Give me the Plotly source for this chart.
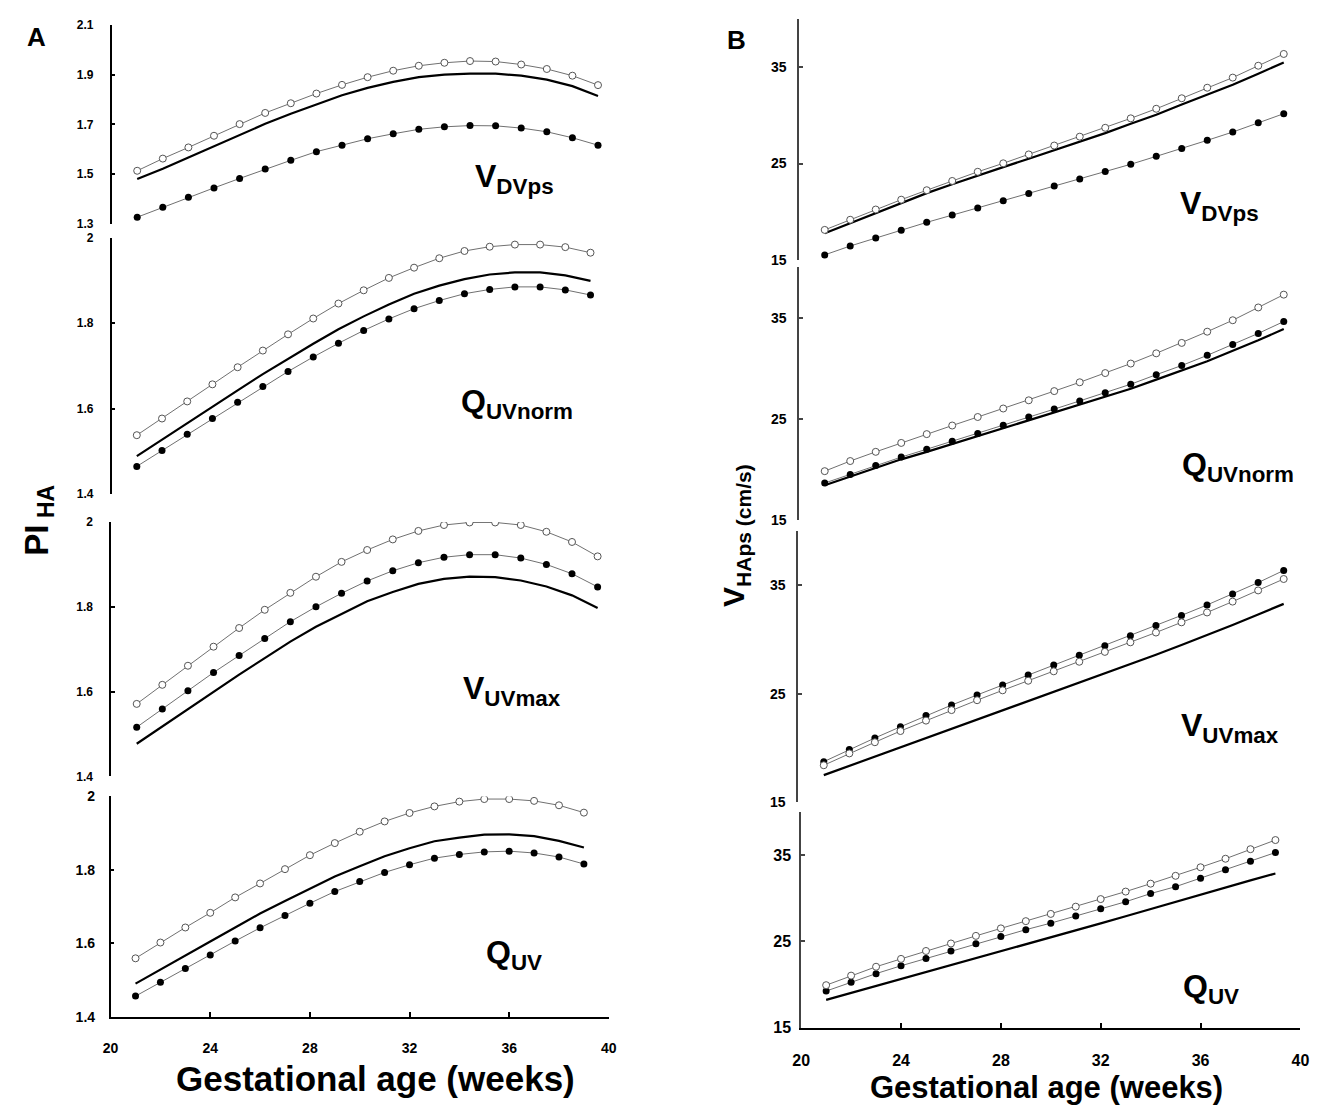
import plotly.graph_objects as go

W, H = 1337, 1114
weeks = list(range(21, 40))

# ---------------- Panel A: PI_HA ----------------
a_vdvps_open = [1.513, 1.562, 1.607, 1.654, 1.701, 1.746, 1.785, 1.824, 1.859, 1.890,
                1.916, 1.936, 1.948, 1.955, 1.953, 1.941, 1.923, 1.896, 1.858]
a_vdvps_fill = [1.326, 1.366, 1.406, 1.444, 1.482, 1.520, 1.555, 1.590, 1.616, 1.642,
                1.662, 1.680, 1.690, 1.695, 1.694, 1.685, 1.670, 1.646, 1.616]
a_vdvps_line = [1.480, 1.521, 1.566, 1.611, 1.657, 1.702, 1.743, 1.781, 1.817, 1.847,
                1.871, 1.890, 1.900, 1.904, 1.904, 1.896, 1.880, 1.854, 1.814]

a_qnorm_open = [1.538, 1.577, 1.617, 1.657, 1.697, 1.736, 1.774, 1.811, 1.846, 1.877,
                1.906, 1.930, 1.952, 1.969, 1.979, 1.984, 1.984, 1.978, 1.965]
a_qnorm_fill = [1.465, 1.502, 1.540, 1.577, 1.615, 1.652, 1.687, 1.721, 1.753, 1.783,
                1.810, 1.834, 1.853, 1.869, 1.879, 1.885, 1.885, 1.878, 1.866]
a_qnorm_line = [1.489, 1.528, 1.566, 1.604, 1.643, 1.681, 1.717, 1.752, 1.786, 1.816,
                1.844, 1.869, 1.888, 1.903, 1.914, 1.919, 1.919, 1.912, 1.899]

a_vmax_open = [1.571, 1.616, 1.661, 1.706, 1.750, 1.793, 1.833, 1.871, 1.906, 1.934,
               1.959, 1.979, 1.993, 1.999, 1.999, 1.993, 1.977, 1.953, 1.919]
a_vmax_fill = [1.516, 1.559, 1.602, 1.645, 1.685, 1.725, 1.765, 1.800, 1.832, 1.861,
               1.885, 1.904, 1.917, 1.923, 1.923, 1.915, 1.900, 1.878, 1.847]
a_vmax_line = [1.477, 1.518, 1.559, 1.600, 1.640, 1.679, 1.718, 1.753, 1.784, 1.813,
               1.835, 1.854, 1.866, 1.871, 1.870, 1.862, 1.848, 1.827, 1.797]

a_quv_open = [1.559, 1.602, 1.643, 1.683, 1.725, 1.763, 1.802, 1.840, 1.873, 1.904,
              1.932, 1.955, 1.973, 1.986, 1.993, 1.993, 1.988, 1.976, 1.956]
a_quv_fill = [1.456, 1.494, 1.531, 1.568, 1.606, 1.642, 1.676, 1.709, 1.741, 1.768,
              1.793, 1.814, 1.832, 1.842, 1.849, 1.851, 1.846, 1.835, 1.816]
a_quv_line = [1.490, 1.529, 1.566, 1.605, 1.643, 1.681, 1.715, 1.749, 1.782, 1.810,
              1.837, 1.859, 1.878, 1.888, 1.896, 1.897, 1.892, 1.879, 1.861]

# ---------------- Panel B: V_HAps (cm/s) ----------------
b_vdvps_open = [18.13, 19.18, 20.24, 21.26, 22.24, 23.20, 24.15, 25.03, 25.95, 26.87,
                27.79, 28.71, 29.69, 30.68, 31.77, 32.86, 33.91, 35.14, 36.36]
b_vdvps_fill = [15.54, 16.46, 17.28, 18.10, 18.91, 19.66, 20.41, 21.16, 21.90, 22.69,
                23.40, 24.18, 24.93, 25.75, 26.56, 27.41, 28.27, 29.22, 30.17]
b_vdvps_line = [17.79, 18.84, 19.90, 20.95, 21.94, 22.86, 23.78, 24.63, 25.51, 26.39,
                27.28, 28.16, 29.12, 30.07, 31.12, 32.14, 33.16, 34.32, 35.48]

b_qnorm_open = [19.83, 20.83, 21.74, 22.62, 23.49, 24.34, 25.18, 26.02, 26.83, 27.74,
                28.61, 29.52, 30.46, 31.47, 32.50, 33.61, 34.74, 36.00, 37.27]
b_qnorm_fill = [18.66, 19.51, 20.38, 21.22, 22.00, 22.78, 23.56, 24.37, 25.18, 25.96,
                26.77, 27.58, 28.42, 29.36, 30.27, 31.27, 32.34, 33.44, 34.61]
b_qnorm_line = [18.44, 19.28, 20.15, 21.00, 21.74, 22.52, 23.27, 24.08, 24.85, 25.60,
                26.38, 27.16, 27.97, 28.87, 29.75, 30.69, 31.73, 32.76, 33.87]

b_vmax_open = [18.42, 19.51, 20.54, 21.57, 22.53, 23.50, 24.41, 25.32, 26.20, 27.07,
               27.95, 28.86, 29.74, 30.64, 31.58, 32.49, 33.49, 34.52, 35.57]
b_vmax_fill = [18.75, 19.87, 20.93, 21.96, 22.99, 23.96, 24.89, 25.80, 26.74, 27.65,
               28.56, 29.43, 30.34, 31.28, 32.22, 33.18, 34.18, 35.24, 36.36]
b_vmax_line = [17.51, 18.36, 19.21, 20.05, 20.90, 21.75, 22.59, 23.44, 24.29, 25.14,
               25.98, 26.83, 27.71, 28.59, 29.49, 30.40, 31.34, 32.31, 33.28]

b_quv_open = [19.91, 21.02, 22.05, 22.96, 23.88, 24.75, 25.63, 26.50, 27.34, 28.18,
              29.02, 29.90, 30.77, 31.69, 32.60, 33.59, 34.58, 35.69, 36.75]
b_quv_fill = [19.23, 20.26, 21.25, 22.16, 23.00, 23.88, 24.71, 25.55, 26.35, 27.11,
              27.95, 28.79, 29.59, 30.54, 31.34, 32.33, 33.29, 34.28, 35.30]
b_quv_line = [18.20, 19.00, 19.80, 20.60, 21.40, 22.20, 23.00, 23.80, 24.64, 25.44,
              26.28, 27.08, 27.91, 28.75, 29.63, 30.47, 31.30, 32.07, 32.87]

x_ticks = [20, 24, 28, 32, 36, 40]
a_top_ticks = [1.3, 1.5, 1.7, 1.9, 2.1]
a_top_text = ["1.3", "1.5", "1.7", "1.9", "2.1"]
a_ticks = [1.4, 1.6, 1.8, 2.0]
a_text = ["1.4", "1.6", "1.8", "2"]
b_ticks = [15, 25, 35]
b_text = ["15", "25", "35"]

labels = [("V", "DVps"), ("Q", "UVnorm"), ("V", "UVmax"), ("Q", "UV")]

panels = [
    # (open, filled, line, yrange, ticks, ticktext, xdom_px, ydom_px, label_px, column)
    (a_vdvps_open, a_vdvps_fill, a_vdvps_line, [1.3, 2.1], a_top_ticks, a_top_text, (104, 623), (17.3, 219), (470, 173), "A"),
    (a_qnorm_open, a_qnorm_fill, a_qnorm_line, [1.4, 2.0], a_ticks, a_text, (104, 615), (233.3, 493.7), (456, 402), "A"),
    (a_vmax_open, a_vmax_fill, a_vmax_line, [1.4, 2.0], a_ticks, a_text, (103.5, 622.6), (522, 780.3), (458, 693), "A"),
    (a_quv_open, a_quv_fill, a_quv_line, [1.4, 2.0], a_ticks, a_text, (103, 608), (800.7, 1024.3), (481, 961), "A"),
    (b_vdvps_open, b_vdvps_fill, b_vdvps_line, [15, 40], b_ticks, b_text, (801, 1318), (11, 256), (1185, 201), "B"),
    (b_qnorm_open, b_qnorm_fill, b_qnorm_line, [15, 40], b_ticks, b_text, (801, 1318), (263, 520), (1187, 466), "B"),
    (b_vmax_open, b_vmax_fill, b_vmax_line, [15, 40], b_ticks, b_text, (800, 1318), (531, 806.7), (1186, 731), "B"),
    (b_quv_open, b_quv_fill, b_quv_line, [15, 40], b_ticks, b_text, (803, 1309), (816.5, 1035.3), (1188, 996), "B"),
]

FONT = "Liberation Sans, Arial, sans-serif"
fig = go.Figure()
annotations = []
layout = {}

for i, (op, fi, ln, yr, tv, tt, xd, yd, lab, col) in enumerate(panels):
    n = i + 1
    xa = "x" if n == 1 else f"x{n}"
    ya = "y" if n == 1 else f"y{n}"
    bottom = (n in (4, 8))
    axcol = "#000000" if col == "A" else "#444444"
    fig.add_trace(go.Scatter(x=weeks, y=ln, mode="lines", xaxis=xa, yaxis=ya,
                             line=dict(color="black", width=2.2), showlegend=False))
    fig.add_trace(go.Scatter(x=weeks, y=fi, mode="lines+markers", xaxis=xa, yaxis=ya,
                             line=dict(color="#707070", width=1),
                             marker=dict(symbol="circle", size=7, color="black"),
                             showlegend=False))
    fig.add_trace(go.Scatter(x=weeks, y=op, mode="lines+markers", xaxis=xa, yaxis=ya,
                             line=dict(color="#707070", width=1),
                             marker=dict(symbol="circle", size=7, color="white",
                                         line=dict(color="#555555", width=1)),
                             showlegend=False))
    xkey = "xaxis" if n == 1 else f"xaxis{n}"
    ykey = "yaxis" if n == 1 else f"yaxis{n}"
    if col == "A":
        ysize = 14 if bottom else 12
        ystand = 11 if bottom else 14
        xsize = 14
        xstand = 18
    else:
        ysize = 16 if bottom else 14
        ystand = 5 if bottom else 8
        xsize = 16
        xstand = 18
    layout[xkey] = dict(domain=[xd[0] / W, xd[1] / W], range=[20, 40], anchor=ya,
                        visible=bottom, showgrid=False, zeroline=False,
                        showline=True, linecolor="black", linewidth=1.5,
                        ticks="inside", ticklen=5, tickwidth=1.5, tickcolor="black",
                        tickvals=x_ticks, ticktext=[str(v) for v in x_ticks],
                        ticklabelstandoff=xstand,
                        tickfont=dict(family=FONT, size=xsize, color="black", weight="bold"))
    layout[ykey] = dict(domain=[1 - yd[1] / H, 1 - yd[0] / H], range=yr, anchor=xa,
                        showgrid=False, zeroline=False,
                        showline=True, linecolor=axcol, linewidth=1.8 if col == "B" else 1.5,
                        ticks="inside", ticklen=4, tickwidth=1.5, tickcolor=axcol,
                        tickvals=tv, ticktext=tt, ticklabelstandoff=ystand,
                        tickfont=dict(family=FONT, size=ysize, color="black", weight="bold"))
    sym, sub = labels[i % 4]
    annotations.append(dict(xref="paper", yref="paper", x=lab[0] / W, y=1 - lab[1] / H,
                            xanchor="left", yanchor="middle", showarrow=False,
                            text=f"<b>{sym}<sub>{sub}</sub></b>",
                            font=dict(family=FONT, size=32, color="black")))

annotations += [
    dict(xref="paper", yref="paper", x=28 / W, y=1 - 29 / H, text="<b>A</b>", showarrow=False,
         xanchor="center", yanchor="middle", font=dict(family=FONT, size=26, color="black")),
    dict(xref="paper", yref="paper", x=737 / W, y=1 - 32 / H, text="<b>B</b>", showarrow=False,
         xanchor="center", yanchor="middle", font=dict(family=FONT, size=26, color="black")),
    dict(xref="paper", yref="paper", x=30 / W, y=1 - 520 / H, text="<b>PI<sub> HA</sub></b>",
         xanchor="center", yanchor="middle",
         textangle=-90, showarrow=False, font=dict(family=FONT, size=33, color="black")),
    dict(xref="paper", yref="paper", x=737 / W, y=1 - 536 / H, text="<b>V<sub>HAps (cm/s)</sub></b>",
         xanchor="center", yanchor="middle",
         textangle=-90, showarrow=False, font=dict(family=FONT, size=30, color="black")),
    dict(xref="paper", yref="paper", x=372 / W, y=1 - 1087 / H, text="<b>Gestational age (weeks)</b>",
         xanchor="center", yanchor="middle",
         showarrow=False, font=dict(family=FONT, size=35, color="black")),
    dict(xref="paper", yref="paper", x=1052 / W, y=1 - 1096 / H, text="<b>Gestational age (weeks)</b>",
         xanchor="center", yanchor="middle",
         showarrow=False, font=dict(family=FONT, size=31, color="black")),
]

fig.update_layout(width=W, height=H, margin=dict(l=0, r=0, t=0, b=0),
                  paper_bgcolor="white", plot_bgcolor="white",
                  annotations=annotations, **layout)

fig.write_html("out.html")
